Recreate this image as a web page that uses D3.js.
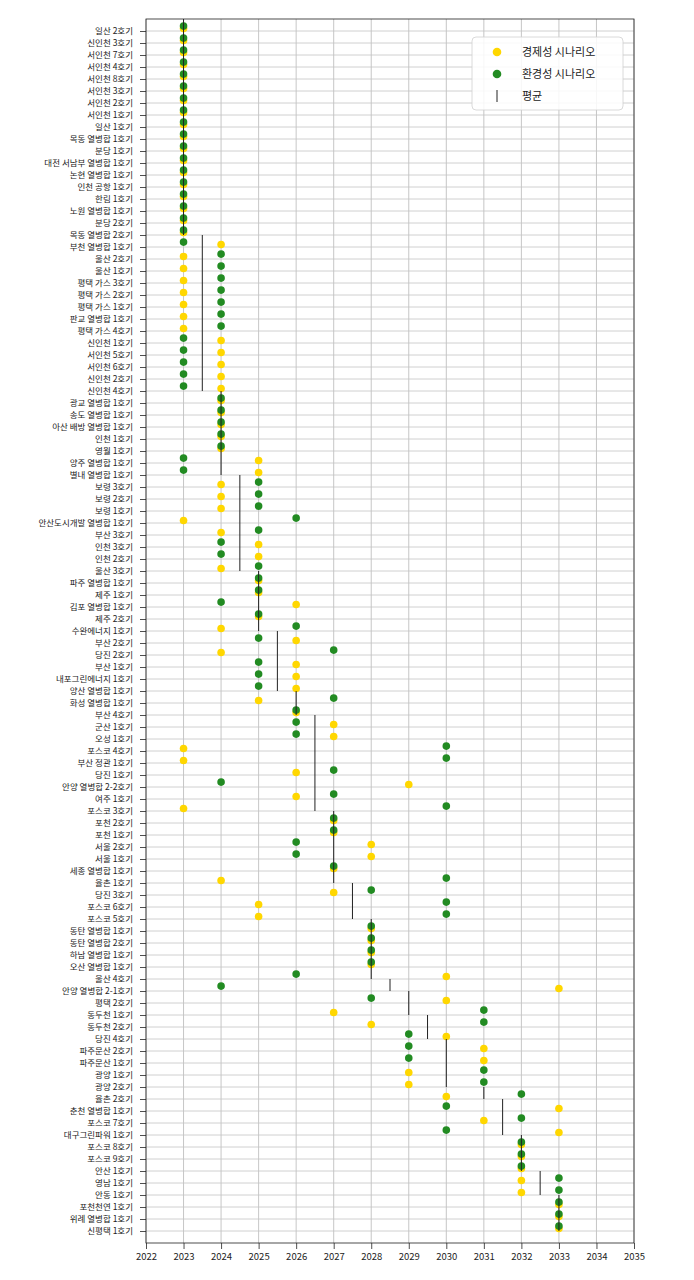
<!DOCTYPE html>
<html><head><meta charset="utf-8">
<script src="https://cdn.jsdelivr.net/npm/d3@7"></script>
<style>
html,body{margin:0;padding:0;background:#fff;}
svg{display:block;font-family:"Noto Sans CJK KR","Noto Sans",sans-serif;}
</style></head>
<body>
<svg id="chart" width="694" height="1280"></svg>
<script>
const categories = [
"일산 2호기","신인천 3호기","서인천 7호기","서인천 4호기","서인천 8호기","서인천 3호기","서인천 2호기","서인천 1호기","일산 1호기","목동 열병합 1호기",
"분당 1호기","대전 서남부 열병합 1호기","논현 열병합 1호기","인천 공항 1호기","한림 1호기","노원 열병합 1호기","분당 2호기","목동 열병합 2호기","부천 열병합 1호기","울산 2호기",
"울산 1호기","평택 가스 3호기","평택 가스 2호기","평택 가스 1호기","판교 열병합 1호기","평택 가스 4호기","신인천 1호기","서인천 5호기","서인천 6호기","신인천 2호기",
"신인천 4호기","광교 열병합 1호기","송도 열병합 1호기","아산 배방 열병합 1호기","인천 1호기","영월 1호기","양주 열병합 1호기","별내 열병합 1호기","보령 3호기","보령 2호기",
"보령 1호기","안산도시개발 열병합 1호기","부산 3호기","인천 3호기","인천 2호기","울산 3호기","파주 열병합 1호기","제주 1호기","김포 열병합 1호기","제주 2호기",
"수완에너지 1호기","부산 2호기","당진 2호기","부산 1호기","내포그린에너지 1호기","양산 열병합 1호기","화성 열병합 1호기","부산 4호기","군산 1호기","오성 1호기",
"포스코 4호기","부산 정관 1호기","당진 1호기","안양 열병합 2-2호기","여주 1호기","포스코 3호기","포천 2호기","포천 1호기","서울 2호기","서울 1호기",
"세종 열병합 1호기","율촌 1호기","당진 3호기","포스코 6호기","포스코 5호기","동탄 열병합 1호기","동탄 열병합 2호기","하남 열병합 1호기","오산 열병합 1호기","울산 4호기",
"안양 열병합 2-1호기","평택 2호기","동두천 1호기","동두천 2호기","당진 4호기","파주문산 2호기","파주문산 1호기","광양 1호기","광양 2호기","율촌 2호기",
"춘천 열병합 1호기","포스코 7호기","대구그린파워 1호기","포스코 8호기","포스코 9호기","안산 1호기","영남 1호기","안동 1호기","포천천연 1호기","위례 열병합 1호기",
"신평택 1호기"];

// 경제성 시나리오 (yellow)
const economic = [
2023,2023,2023,2023,2023,2023,2023,2023,2023,2023,
2023,2023,2023,2023,2023,2023,2023,2023,2024,2023,
2023,2023,2023,2023,2023,2023,2024,2024,2024,2024,
2024,2024,2024,2024,2024,2024,2025,2025,2024,2024,
2024,2023,2024,2025,2025,2024,2025,2025,2026,2025,
2024,2026,2024,2026,2026,2026,2025,2026,2027,2027,
2023,2023,2026,2029,2026,2023,2027,2027,2028,2028,
2027,2024,2027,2025,2025,2028,2028,2028,2028,2030,
2033,2030,2027,2028,2030,2031,2031,2029,2029,2030,
2033,2031,2033,2032,2032,2032,2032,2032,2033,2033,
2033];

// 환경성 시나리오 (green)
const environmental = [
2023,2023,2023,2023,2023,2023,2023,2023,2023,2023,
2023,2023,2023,2023,2023,2023,2023,2023,2023,2024,
2024,2024,2024,2024,2024,2024,2023,2023,2023,2023,
2023,2024,2024,2024,2024,2024,2023,2023,2025,2025,
2025,2026,2025,2024,2024,2025,2025,2025,2024,2025,
2026,2025,2027,2025,2025,2025,2027,2026,2026,2026,
2030,2030,2027,2024,2027,2030,2027,2027,2026,2026,
2027,2030,2028,2030,2030,2028,2028,2028,2028,2026,
2024,2028,2031,2031,2029,2029,2029,2031,2031,2032,
2030,2032,2030,2032,2032,2032,2033,2033,2033,2033,
2033];

const xTicks = [2022,2023,2024,2025,2026,2027,2028,2029,2030,2031,2032,2033,2034,2035];
const legendLabels = ["경제성 시나리오","환경성 시나리오","평균"];

const colEco = "#FFD700", colEnv = "#228B22";
const svg = d3.select("#chart");
const L = 146, R = 634, T = 19, B = 1243;
const n = categories.length;

const x = d3.scaleLinear().domain([2022, 2035]).range([L, R]);
const y = d3.scaleLinear().domain([-1, n]).range([T, B]);

// grid
const grid = svg.append("g");
grid.selectAll("line.gx").data(xTicks).join("line")
  .attr("x1", d => x(d)).attr("x2", d => x(d)).attr("y1", T).attr("y2", B)
  .attr("stroke", "#b8b8b8").attr("stroke-width", 0.8);
grid.selectAll("line.gy").data(categories).join("line")
  .attr("x1", L).attr("x2", R).attr("y1", (d, i) => y(i)).attr("y2", (d, i) => y(i))
  .attr("stroke", "#c4c4c4").attr("stroke-width", 0.8);

// rows
const rows = categories.map((c, i) => ({c, i, e: economic[i], g: environmental[i], m: (economic[i] + environmental[i]) / 2}));

// mean groups (consecutive rows sharing the same mean)
const groups = [];
rows.forEach(r => {
  const last = groups[groups.length - 1];
  if (last && last.m === r.m) last.end = r.i;
  else groups.push({m: r.m, start: r.i, end: r.i});
});

// points
svg.append("g").selectAll("circle").data(rows).join("circle")
  .attr("cx", d => x(d.e)).attr("cy", d => y(d.i - 0.21)).attr("r", 3.8).attr("fill", colEco);
svg.append("g").selectAll("circle").data(rows).join("circle")
  .attr("cx", d => x(d.g)).attr("cy", d => y(d.i - 0.41)).attr("r", 3.8).attr("fill", colEnv);

// mean lines
svg.append("g").selectAll("line").data(groups).join("line")
  .attr("x1", d => x(d.m)).attr("x2", d => x(d.m))
  .attr("y1", d => y(d.start - 1)).attr("y2", d => y(d.end))
  .attr("stroke", "#222").attr("stroke-width", 1);

// axes
const yAxis = d3.axisLeft(y).tickValues(d3.range(n)).tickFormat(i => categories[i]).tickSize(6).tickPadding(7);
const gy = svg.append("g").attr("transform", `translate(${L},0)`).call(yAxis);
gy.select(".domain").remove();
gy.selectAll("text").attr("font-size", 8.5).attr("fill", "#222").attr("font-family", '"Noto Sans CJK KR",sans-serif');
gy.selectAll("line").attr("stroke", "#222").attr("stroke-width", 0.8);

const xAxis = d3.axisBottom(x).tickValues(xTicks).tickFormat(d3.format("d")).tickSize(6).tickPadding(4);
const gx = svg.append("g").attr("transform", `translate(0,${B})`).call(xAxis);
gx.select(".domain").remove();
gx.selectAll("text").attr("font-size", 9.5).attr("fill", "#222").attr("font-family", '"Noto Sans CJK KR",sans-serif');
gx.selectAll("line").attr("stroke", "#222").attr("stroke-width", 0.8);

// frame
svg.append("rect").attr("x", L).attr("y", T).attr("width", R - L).attr("height", B - T)
  .attr("fill", "none").attr("stroke", "#222").attr("stroke-width", 0.8);

// legend
const lg = svg.append("g").attr("transform", "translate(472,37)");
lg.append("rect").attr("width", 151).attr("height", 73).attr("rx", 4)
  .attr("fill", "#fff").attr("fill-opacity", 0.85).attr("stroke", "#d0d0d0").attr("stroke-width", 0.8);
const items = legendLabels.map((t, i) => ({t, i}));
const li = lg.selectAll("g.item").data(items).join("g").attr("transform", d => `translate(0,${15 + d.i * 22})`);
li.filter(d => d.i < 2).append("circle").attr("cx", 25).attr("cy", 0).attr("r", 4.3)
  .attr("fill", d => d.i === 0 ? colEco : colEnv);
li.filter(d => d.i === 2).append("line").attr("x1", 25).attr("x2", 25).attr("y1", -6).attr("y2", 6)
  .attr("stroke", "#222").attr("stroke-width", 1);
li.append("text").attr("x", 50).attr("y", 0).attr("dy", "0.35em").attr("font-size", 11).attr("fill", "#222")
  .text(d => d.t);
</script>
</body></html>
